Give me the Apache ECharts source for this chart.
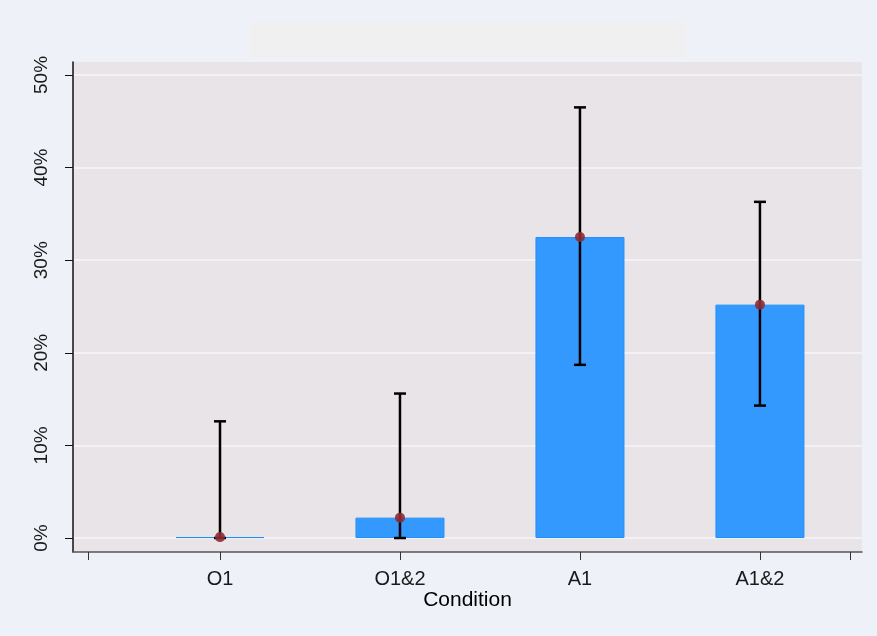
<!DOCTYPE html>
<html><head><meta charset="utf-8">
<script src="https://cdn.jsdelivr.net/npm/echarts@6/dist/echarts.min.js"></script>
<style>html,body{margin:0;padding:0;background:#EEF2F8}#c{width:877px;height:636px}</style>
</head><body><div id="c"></div>
<script>
const categories = ["O1", "O1&2", "A1", "A1&2"];
const positions = [1, 2, 3, 4];
const means = [0.1, 2.2, 32.5, 25.2];
const ciLow = [0.0, 0.0, 18.7, 14.3];
const ciHigh = [12.6, 15.6, 46.5, 36.3];
const yTicks = [0, 10, 20, 30, 40, 50];
const xTicks = [0.2667, 1, 2, 3, 4, 4.5];

const chart = echarts.init(document.getElementById('c'), null, {renderer: 'canvas'});
const font = '"Liberation Sans", Arial, sans-serif';
chart.setOption({
  backgroundColor: '#EEF2F8',
  animation: false,
  graphic: [{type: 'rect', shape: {x: 250, y: 22, width: 436, height: 35}, style: {fill: '#F0F0F0'}}],
  grid: {left: 73, right: 15, top: 62, bottom: 84, show: true, backgroundColor: '#E8E4E8', borderWidth: 0},
  xAxis: {
    type: 'value', min: 0.1833, max: 4.567,
    name: 'Condition', nameLocation: 'middle', nameGap: 38, nameMoveOverlap: false,
    nameTextStyle: {fontFamily: font, fontSize: 21, color: '#000'},
    axisLine: {show: true, onZero: false, lineStyle: {color: '#555', width: 1.5}},
    axisTick: {show: true, length: 8, customValues: xTicks, lineStyle: {color: '#333', width: 1}},
    axisLabel: {customValues: positions, margin: 17, fontFamily: font, fontSize: 20, color: '#1a1a1a',
      formatter: v => { const i = positions.indexOf(Math.round(v)); return i >= 0 ? categories[i] : ''; }},
    splitLine: {show: false}
  },
  yAxis: {
    type: 'value', min: -1.51, max: 51.4,
    axisLine: {show: true, lineStyle: {color: '#111', width: 1.5}},
    axisTick: {show: true, length: 8, customValues: yTicks, lineStyle: {color: '#111', width: 1}},
    axisLabel: {customValues: yTicks, rotate: 90, margin: 22, fontFamily: font, fontSize: 19, color: '#1a1a1a',
      formatter: v => v + '%'},
    splitLine: {show: true, lineStyle: {color: '#F2F2F6', width: 2}}
  },
  series: [
    {type: 'bar', barWidth: 89, barMinHeight: 1, data: positions.map((p, i) => [p, means[i]]),
     itemStyle: {color: '#3399FF', borderColor: '#2090F8', borderWidth: 1}},
    {type: 'custom', data: positions.map((p, i) => [p, ciLow[i], ciHigh[i]]),
     renderItem: (params, api) => {
       const lo = api.coord([api.value(0), api.value(1)]);
       const hi = api.coord([api.value(0), api.value(2)]);
       const hw = 6;
       const st = {stroke: '#000', lineWidth: 2.5};
       return {type: 'group', children: [
         {type: 'line', shape: {x1: lo[0], y1: lo[1], x2: hi[0], y2: hi[1]}, style: st},
         {type: 'line', shape: {x1: lo[0] - hw, y1: lo[1], x2: lo[0] + hw, y2: lo[1]}, style: st},
         {type: 'line', shape: {x1: hi[0] - hw, y1: hi[1], x2: hi[0] + hw, y2: hi[1]}, style: st}
       ]};
     }, z: 3},
    {type: 'scatter', symbolSize: 10, data: positions.map((p, i) => [p, means[i]]),
     itemStyle: {color: '#8E2A35', opacity: 0.9}, z: 4}
  ]
});
</script></body></html>
